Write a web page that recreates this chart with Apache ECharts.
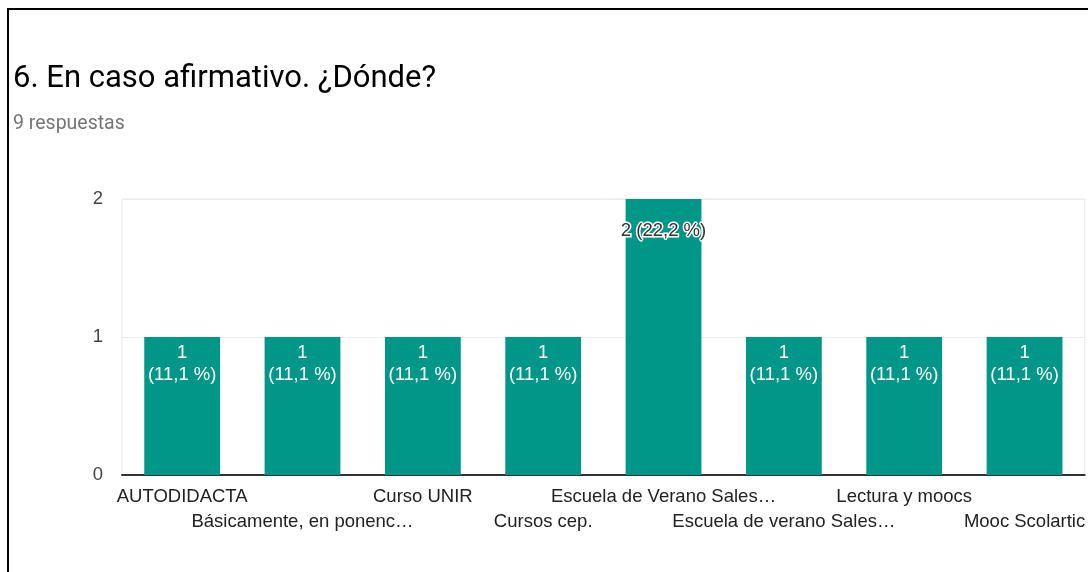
<!DOCTYPE html>
<html>
<head>
<meta charset="utf-8">
<title>6. En caso afirmativo. ¿Dónde?</title>
<script src="https://cdn.jsdelivr.net/npm/echarts@6/dist/echarts.min.js"></script>
<style>
  html, body { margin: 0; padding: 0; background: #fff; }
  #chart { position: absolute; left: 0; top: 0; width: 1088px; height: 572px; }
  #frame { position: absolute; left: 7px; top: 8px; width: 1200px; height: 700px;
           border-left: 2px solid #000; border-top: 2px solid #000; pointer-events: none; }
</style>
</head>
<body>
<div id="chart"></div>
<div id="frame"></div>
<script>
// Respuestas a la pregunta 6
const categories = [
  'AUTODIDACTA',
  'Básicamente, en ponenc…',
  'Curso UNIR',
  'Cursos cep.',
  'Escuela de Verano Sales…',
  'Escuela de verano Sales…',
  'Lectura y moocs',
  'Mooc Scolartic'
];
const counts = [1, 1, 1, 1, 2, 1, 1, 1];
const yTicks = [0, 1, 2];
const totalResponses = 9;

const pct = v => (v / totalResponses * 100).toFixed(1).replace('.', ',') + ' %';

const seriesData = counts.map(v => {
  if (v > 1) {
    // la etiqueta cabe en una línea: texto oscuro con halo blanco
    return {
      value: v,
      label: {
        formatter: p => p.value + ' (' + pct(p.value) + ')',
        color: '#333',
        textBorderColor: '#fff',
        textBorderWidth: 3,
        distance: 21
      }
    };
  }
  return { value: v };
});

const chart = echarts.init(document.getElementById('chart'), null, { renderer: 'canvas' });
chart.setOption({
  animation: false,
  backgroundColor: '#fff',
  title: {
    text: '6. En caso afirmativo. ¿Dónde?',
    subtext: totalResponses + ' respuestas',
    left: 8,
    top: 59,
    itemGap: 19,
    textStyle: { fontFamily: 'Roboto', fontSize: 31, fontWeight: 'normal', color: '#000' },
    subtextStyle: { fontFamily: 'Roboto', fontSize: 19.5, color: '#757575' }
  },
  grid: {
    left: 122, right: 0, top: 199, bottom: 97,
    show: true, borderColor: '#ebebeb', borderWidth: 1
  },
  xAxis: {
    type: 'category',
    data: categories,
    axisTick: { show: false },
    axisLine: { lineStyle: { color: '#333', width: 2 } },
    axisLabel: {
      interval: 0,
      margin: 9,
      fontFamily: 'Liberation Sans',
      fontSize: 18.5,
      lineHeight: 25,
      color: '#222',
      formatter: (v, i) => (i % 2 ? '\n' + v : v)
    }
  },
  yAxis: {
    type: 'value',
    min: yTicks[0],
    max: yTicks[yTicks.length - 1],
    interval: 1,
    axisLine: { show: false },
    axisTick: { show: false },
    splitLine: { lineStyle: { color: '#ebebeb', width: 1 } },
    axisLabel: {
      margin: 19,
      fontFamily: 'Liberation Sans',
      fontSize: 18.5,
      color: '#444'
    }
  },
  series: [{
    type: 'bar',
    data: seriesData,
    barCategoryGap: '37%',
    itemStyle: { color: '#009688' },
    label: {
      show: true,
      position: 'insideTop',
      distance: 5,
      fontFamily: 'Liberation Sans',
      fontSize: 18.5,
      lineHeight: 22,
      color: '#fff',
      formatter: p => p.value + '\n(' + pct(p.value) + ')'
    }
  }]
});
</script>
</body>
</html>
